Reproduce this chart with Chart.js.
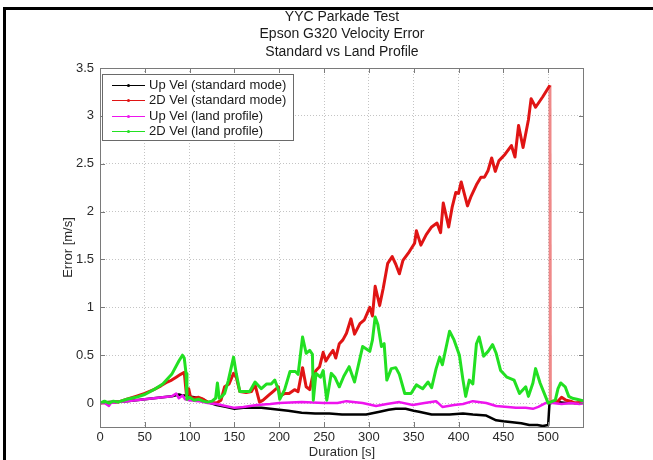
<!DOCTYPE html>
<html><head><meta charset="utf-8">
<script src="https://cdn.jsdelivr.net/npm/chart.js@4"></script>
<style>html,body{margin:0;padding:0;background:#fff;}#wrap{width:653px;height:460px;position:relative;}</style>
</head><body><div id="wrap"><canvas id="c" width="653" height="460"></canvas></div>
<script>
const titleLines = ['YYC Parkade Test', 'Epson G320 Velocity Error', 'Standard vs Land Profile'];
const xTitle = 'Duration [s]';
const yTitle = 'Error [m/s]';
const seriesLabels = ['Up Vel (standard mode)', '2D Vel (standard mode)', 'Up Vel (land profile)', '2D Vel (land profile)'];
const seriesColors = ['#000000', '#e01414', '#ee14ee', '#22e022'];
const xTickValues = [0, 50, 100, 150, 200, 250, 300, 350, 400, 450, 500];
const yTickValues = [0, 0.5, 1, 1.5, 2, 2.5, 3, 3.5];
const yTickLabels = ['0', '0.5', '1', '1.5', '2', '2.5', '3', '3.5'];

// [time s, error m/s]
const upVelStd = [[0,0],[10,0.01],[20,0.015],[30,0.02],[40,0.03],[50,0.04],[60,0.05],[70,0.06],[80,0.07],[88,0.09],[92,0.08],[95,0.08],[98,0.09],[100,0.07],[105,0.06],[110,0.05],[115,0.04],[120,0.01],[130,-0.02],[140,-0.04],[150,-0.06],[160,-0.05],[170,-0.05],[180,-0.05],[190,-0.06],[200,-0.07],[210,-0.08],[225,-0.1],[240,-0.11],[256,-0.11],[270,-0.12],[285,-0.12],[297,-0.12],[312,-0.09],[322,-0.07],[330,-0.06],[341,-0.06],[350,-0.08],[356,-0.09],[370,-0.12],[390,-0.12],[405,-0.11],[416,-0.12],[431,-0.13],[442,-0.18],[450,-0.19],[460,-0.2],[470,-0.21],[479,-0.23],[488,-0.23],[494,-0.24],[500,-0.23],[501.5,0],[503,0],[510,0.01],[520,0],[530,0],[540,0]];
const vel2dStd = [[0,0],[10,0.005],[20,0.01],[30,0.04],[40,0.07],[50,0.1],[60,0.14],[68,0.18],[75,0.22],[80,0.24],[85,0.27],[90,0.3],[94,0.32],[96.5,0.08],[99,0.15],[101,0.06],[105,0.05],[110,0.06],[115,0.04],[120,0.01],[130,0],[135,0.03],[139,0.17],[144,0.2],[149,0.31],[152,0.27],[156,0.12],[163,0.11],[169,0.12],[173,0.19],[178,0.01],[182,0.03],[188,0.08],[193,0.12],[199,0.17],[200.5,0.07],[206,0.1],[211,0.1],[217,0.14],[221,0.12],[226,0.37],[230,0.17],[234,0.14],[237,0.27],[241,0.34],[245,0.38],[249,0.53],[252,0.44],[256,0.5],[260,0.55],[263,0.47],[267,0.62],[271,0.66],[275,0.73],[280,0.88],[284,0.72],[290,0.83],[295,0.87],[301,1.0],[304,0.91],[307,1.22],[312,1.02],[316,1.2],[321,1.46],[326,1.53],[330,1.45],[334,1.35],[338,1.49],[345,1.58],[351,1.67],[353,1.8],[358,1.65],[364,1.76],[370,1.84],[376,1.88],[380,1.78],[383,2.09],[389,1.84],[393,2.05],[397,2.2],[400,2.19],[403,2.31],[410,2.06],[414,2.16],[420,2.28],[425,2.36],[429,2.36],[433,2.43],[437,2.56],[441,2.42],[445,2.53],[452,2.6],[459,2.69],[463,2.57],[467,2.9],[472,2.67],[478,2.96],[481,3.18],[486,3.09],[494,3.2],[502,3.32],[502.5,0],[505,0.02],[510,0.01],[515,0.06],[520,0.03],[525,0.02],[530,0],[540,0.01]];
const upVelLand = [[0,0],[5,0],[10,-0.03],[12,0],[20,0.01],[30,0.02],[40,0.03],[50,0.04],[60,0.05],[70,0.06],[80,0.07],[85,0.1],[88,0.05],[92,0.08],[95,0.04],[100,0.03],[110,0.02],[120,0],[130,-0.01],[140,-0.03],[150,-0.05],[160,-0.04],[175,-0.02],[190,-0.01],[200,0],[225,0.01],[250,0],[265,0],[275,0.02],[293,0],[308,-0.03],[320,-0.01],[334,0.01],[349,-0.02],[362,0],[375,0.02],[382,-0.04],[395,-0.02],[405,-0.01],[416,0.02],[431,0],[442,-0.03],[455,-0.04],[464,-0.05],[475,-0.05],[483,-0.06],[489,-0.04],[497,0],[505,0],[515,-0.01],[525,0],[535,-0.01],[540,0]];
const vel2dLand = [[0,0],[5,0.02],[10,0],[15,0.02],[20,0.01],[30,0.04],[40,0.06],[50,0.09],[60,0.14],[70,0.2],[80,0.3],[88,0.44],[92,0.5],[94,0.47],[96,0.31],[97,0.04],[100,0.06],[105,0.03],[110,0.04],[115,0.02],[120,0.01],[125,0.02],[129,0.05],[131,0.21],[133,0.05],[136,0.07],[139,0.1],[143,0.23],[149,0.48],[152,0.31],[156,0.12],[162,0.12],[167,0.12],[173,0.22],[180,0.15],[186,0.2],[191,0.2],[195,0.24],[199,0.14],[200.5,0.04],[206,0.14],[212,0.33],[218,0.33],[221,0.3],[226,0.69],[230,0.52],[234,0.55],[237,0.51],[238,0.03],[241,0.31],[246,0.27],[249,0.34],[253,0.03],[258,0.31],[262,0.27],[267,0.17],[272,0.28],[278,0.38],[284,0.22],[293,0.59],[301,0.54],[304,0.66],[307,0.9],[310,0.82],[314,0.59],[317,0.62],[320,0.24],[325,0.36],[330,0.37],[334,0.3],[340,0.1],[347,0.1],[353,0.19],[360,0.15],[366,0.22],[370,0.16],[375,0.36],[379,0.48],[382,0.4],[390,0.75],[395,0.66],[401,0.5],[405,0.24],[408,0.07],[412,0.24],[416,0.2],[420,0.62],[423,0.69],[428,0.49],[433,0.54],[438,0.61],[442,0.52],[447,0.34],[454,0.27],[462,0.24],[468,0.1],[475,0.17],[478,0.07],[483,0.21],[486,0.36],[491,0.21],[497,0.07],[500,0],[508,0.03],[511,0.15],[514,0.21],[519,0.17],[523,0.07],[527,0.05],[532,0.04],[540,0.02]];

const seriesData = [upVelStd, vel2dStd, upVelLand, vel2dLand];
const FONT = '"Liberation Sans", Arial, Helvetica, sans-serif';
const toPts = a => a.map(p => ({x: p[0], y: p[1]}));
const widths = [2.5, 3, 2.5, 3];
const drawOrder = [4, 3, 2, 1];

const datasets = seriesData.map((d, i) => ({
  label: seriesLabels[i],
  data: toPts(d),
  showLine: true,
  borderColor: seriesColors[i],
  backgroundColor: seriesColors[i],
  borderWidth: widths[i],
  borderJoinStyle: 'round',
  pointRadius: 0,
  tension: 0,
  order: drawOrder[i],
  segment: {
    borderColor: ctx => Math.abs(ctx.p1.parsed.y - ctx.p0.parsed.y) > 1 ? 'rgba(224,20,20,0.5)' : undefined
  }
}));

const matlabPlugin = {
  id: 'matlab',
  beforeDraw(chart) {
    const c = chart.ctx;
    c.save();
    c.fillStyle = '#fff';
    c.fillRect(0, 0, chart.width, chart.height);
    c.fillStyle = '#000';
    c.fillRect(3, 7, chart.width - 3, 3);
    c.fillRect(3, 7, 3, chart.height - 7);
    c.restore();
  },
  afterDraw(chart) {
    const c = chart.ctx, a = chart.chartArea;
    const xs = chart.scales.x, ys = chart.scales.y;
    c.save();
    c.strokeStyle = '#7a7a7a';
    c.lineWidth = 1;
    c.strokeRect(a.left + 0.5, a.top + 0.5, a.right - a.left - 1, a.bottom - a.top);
    c.beginPath();
    xTickValues.forEach(v => {
      const px = Math.round(xs.getPixelForValue(v)) + 0.5;
      c.moveTo(px, a.bottom); c.lineTo(px, a.bottom - 5);
      c.moveTo(px, a.top); c.lineTo(px, a.top + 5);
    });
    yTickValues.forEach(v => {
      const py = Math.round(ys.getPixelForValue(v)) + 0.5;
      c.moveTo(a.left, py); c.lineTo(a.left + 5, py);
      c.moveTo(a.right, py); c.lineTo(a.right - 5, py);
    });
    c.stroke();
    c.fillStyle = '#1a1a1a';
    c.font = '14px ' + FONT;
    c.textAlign = 'center';
    c.textBaseline = 'middle';
    const cx = (a.left + a.right) / 2;
    titleLines.forEach((t, i) => c.fillText(t, cx, 17 + i * 17.5));
    c.font = '13px ' + FONT;
    c.fillStyle = '#2a2a2a';
    c.fillText(xTitle, cx, 452);
    c.save();
    c.translate(68, (a.top + a.bottom) / 2);
    c.rotate(-Math.PI / 2);
    c.fillText(yTitle, 0, 0);
    c.restore();
    const lx = 102, ly = 74, lw = 191, lh = 66;
    c.fillStyle = '#fff';
    c.fillRect(lx, ly, lw, lh);
    c.strokeStyle = '#6a6a6a';
    c.strokeRect(lx + 0.5, ly + 0.5, lw, lh);
    c.font = '13px ' + FONT;
    c.textAlign = 'left';
    seriesLabels.forEach((lab, i) => {
      const y = ly + 11 + i * 15.3;
      c.strokeStyle = seriesColors[i];
      c.lineWidth = 1;
      c.beginPath();
      c.moveTo(112, Math.round(y) + 0.5); c.lineTo(145, Math.round(y) + 0.5);
      c.stroke();
      c.fillStyle = seriesColors[i];
      c.beginPath();
      c.arc(128.5, Math.round(y) + 0.5, 1.5, 0, Math.PI * 2);
      c.fill();
      c.fillStyle = '#1a1a1a';
      c.fillText(lab, 149, y + 0.5);
    });
    c.restore();
  }
};

new Chart(document.getElementById('c'), {
  type: 'scatter',
  data: { datasets },
  options: {
    responsive: false,
    animation: false,
    devicePixelRatio: 1,
    layout: { padding: { left: 0, right: 69, top: 68, bottom: 0 } },
    plugins: { legend: { display: false }, tooltip: { enabled: false }, title: { display: false } },
    scales: {
      x: {
        type: 'linear', min: 0, max: 540,
        afterFit: s => { s.height = 33; },
        afterBuildTicks: s => { s.ticks = xTickValues.map(v => ({ value: v })); },
        ticks: { font: { family: FONT, size: 13 }, color: '#2a2a2a', padding: 3, maxRotation: 0, autoSkip: false, callback: v => String(v) },
        grid: { color: '#c4c4c4', drawTicks: false, lineWidth: 1 },
        border: { display: false, dash: [1, 2] }
      },
      y: {
        type: 'linear', min: -0.25, max: 3.5,
        afterFit: s => { s.width = 100; },
        afterBuildTicks: s => { s.ticks = yTickValues.map(v => ({ value: v })); },
        ticks: { font: { family: FONT, size: 13 }, color: '#2a2a2a', padding: 6, autoSkip: false,
                 callback: v => { const k = yTickValues.indexOf(v); return k >= 0 ? yTickLabels[k] : ''; } },
        grid: { color: '#c4c4c4', drawTicks: false, lineWidth: 1 },
        border: { display: false, dash: [1, 2] }
      }
    }
  },
  plugins: [matlabPlugin]
});
</script>
</body></html>
